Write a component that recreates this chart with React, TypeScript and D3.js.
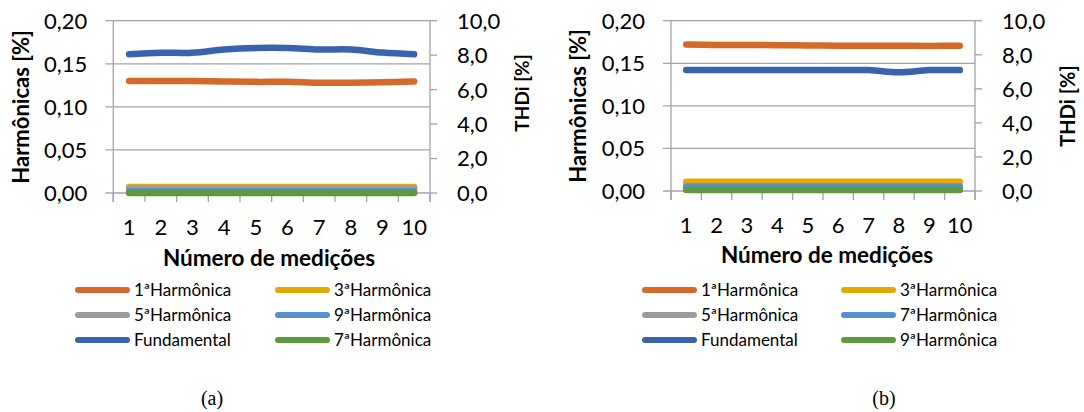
import React from 'react';
import * as d3 from 'd3';

// Measurement index on the x axis
const measurements = ['1', '2', '3', '4', '5', '6', '7', '8', '9', '10'];
// Primary axis (harmonics, %) and secondary axis (THDi, %) ticks
const harmonicTicks = [0, 0.05, 0.1, 0.15, 0.2];
const thdTicks = [0, 2, 4, 6, 8, 10];

// Panel (a)
const a1st = [0.13, 0.13, 0.13, 0.1295, 0.129, 0.129, 0.128, 0.128, 0.1285, 0.1295];
const a3rd = [0.007, 0.007, 0.007, 0.007, 0.007, 0.007, 0.007, 0.007, 0.007, 0.007];
const a5th = [0.005, 0.005, 0.005, 0.005, 0.005, 0.005, 0.005, 0.005, 0.005, 0.005];
const a9th = [0.002, 0.002, 0.002, 0.002, 0.002, 0.002, 0.002, 0.002, 0.002, 0.002];
const a7th = [0, 0, 0, 0, 0, 0, 0, 0, 0, 0];
const aFundamental = [8.05, 8.14, 8.14, 8.33, 8.42, 8.42, 8.33, 8.33, 8.15, 8.05];

// Panel (b)
const b1st = [0.172, 0.1715, 0.1715, 0.1713, 0.171, 0.1706, 0.1706, 0.1706, 0.1704, 0.1706];
const b3rd = [0.011, 0.011, 0.011, 0.011, 0.011, 0.011, 0.011, 0.011, 0.011, 0.011];
const b5th = [0.0055, 0.0055, 0.0055, 0.0055, 0.0055, 0.0055, 0.0055, 0.0055, 0.0055, 0.0055];
const b7th = [0.005, 0.005, 0.005, 0.005, 0.005, 0.005, 0.005, 0.005, 0.005, 0.005];
const b9th = [0.0012, 0.0012, 0.0012, 0.0012, 0.0012, 0.0012, 0.0012, 0.0012, 0.0012, 0.0012];
const bFundamental = [7.1, 7.1, 7.1, 7.1, 7.1, 7.1, 7.1, 6.97, 7.1, 7.1];

const ORANGE = '#D4692A';
const YELLOW = '#E3A902';
const GRAY = '#9B9B9B';
const LIGHTBLUE = '#5590CC';
const BLUE = '#3B63AD';
const GREEN = '#5E9A3D';

const FONT = 'Lato, "Open Sans", sans-serif';
const SERIF = '"Liberation Serif", "Times New Roman", serif';
const AXIS = '#A3A3A3';

const ptBR = d3.formatLocale({ decimal: ',', thousands: '.', grouping: [3], currency: ['R$', ''] });
const fmtHarm = ptBR.format('.2f');
const fmtThd = ptBR.format('.1f');

type Series = { name: string; color: string; values: number[]; secondary?: boolean };

type PanelProps = {
  left: number;
  right: number;
  top: number;
  bottom: number;
  series: Series[];
  legendRows: [string, string][];
  leftTitleX: number;
  rightTitleX: number;
  rightTitleY: number;
  rightTitleSize: number;
  xTitleX: number;
  xTitleY: number;
  legendX: [number, number];
  caption: string;
  captionX: number;
};

function Panel(p: PanelProps) {
  const x = d3.scaleBand<string>().domain(measurements).range([p.left, p.right]);
  const yL = d3.scaleLinear().domain([0, 0.2]).range([p.bottom, p.top]);
  const yR = d3.scaleLinear().domain([0, 10]).range([p.bottom, p.top]);
  const cx = (i: number) => (x(measurements[i]) as number) + x.bandwidth() / 2;
  const lineL = d3.line<number>().x((_, i) => cx(i)).y((v) => yL(v)).curve(d3.curveCatmullRom);
  const lineR = d3.line<number>().x((_, i) => cx(i)).y((v) => yR(v)).curve(d3.curveCatmullRom);
  const bounds = measurements.map((m) => x(m) as number).concat([p.right]);
  const colorOf = (n: string) => p.series.find((s) => s.name === n)!.color;
  const legendY = [290, 315, 340];

  return (
    <g>
      {harmonicTicks.map((t) => (
        <line key={'g' + t} x1={p.left - 8} x2={p.right} y1={yL(t)} y2={yL(t)} stroke={AXIS} strokeWidth={1.3} />
      ))}
      <line x1={p.left} x2={p.left} y1={p.top} y2={p.bottom + 9} stroke={AXIS} strokeWidth={1.3} />
      <line x1={p.right} x2={p.right} y1={p.top} y2={p.bottom + 9} stroke={AXIS} strokeWidth={1.3} />
      {bounds.map((b, i) => (
        <line key={'xt' + i} x1={b} x2={b} y1={p.bottom} y2={p.bottom + 9} stroke={AXIS} strokeWidth={1.3} />
      ))}
      {thdTicks.map((t) => (
        <line key={'rt' + t} x1={p.right} x2={p.right + 7} y1={yR(t)} y2={yR(t)} stroke={AXIS} strokeWidth={1.3} />
      ))}

      {harmonicTicks.map((t) => (
        <text key={'lt' + t} x={p.left - 26} y={yL(t)} dy="0.36em" textAnchor="end" fontFamily={FONT} fontSize={22} fill="#000">
          {fmtHarm(t)}
        </text>
      ))}
      {thdTicks.map((t) => (
        <text key={'rl' + t} x={p.right + 27} y={yR(t)} dy="0.36em" textAnchor="start" fontFamily={FONT} fontSize={22} fill="#000">
          {fmtThd(t)}
        </text>
      ))}
      {measurements.map((m, i) => (
        <text key={'xl' + m} x={cx(i)} y={p.bottom + 42} textAnchor="middle" fontFamily={FONT} fontSize={22} fill="#000">
          {m}
        </text>
      ))}

      <text
        transform={`translate(${p.leftTitleX},${(p.top + p.bottom) / 2}) rotate(-90)`}
        dy="0.36em"
        textAnchor="middle"
        fontFamily={FONT}
        fontWeight="bold"
        fontSize={22}
        fill="#000"
      >
        Harmônicas [%]
      </text>
      <text
        transform={`translate(${p.rightTitleX},${p.rightTitleY}) rotate(-90)`}
        dy="0.36em"
        textAnchor="middle"
        fontFamily={FONT}
        fontWeight="bold"
        fontSize={p.rightTitleSize}
        fill="#000"
      >
        THDi [%]
      </text>
      <text x={p.xTitleX} y={p.xTitleY} textAnchor="middle" fontFamily={FONT} fontWeight="bold" fontSize={22.5} fill="#000">
        Número de medições
      </text>

      {p.series.map((s) => (
        <path
          key={s.name}
          d={(s.secondary ? lineR : lineL)(s.values) as string}
          fill="none"
          stroke={s.color}
          strokeWidth={6.5}
          strokeLinecap="round"
          strokeLinejoin="round"
        />
      ))}

      {p.legendRows.map((row, r) =>
        row.map((name, c) => (
          <g key={name}>
            <line
              x1={p.legendX[c] + 3}
              x2={p.legendX[c] + 52}
              y1={legendY[r]}
              y2={legendY[r]}
              stroke={colorOf(name)}
              strokeWidth={6}
              strokeLinecap="round"
            />
            <text x={p.legendX[c] + 59} y={legendY[r]} dy="0.36em" fontFamily={FONT} fontSize={17} fill="#000">
              {name}
            </text>
          </g>
        ))
      )}

      <text x={p.captionX} y={405} textAnchor="middle" fontFamily={SERIF} fontSize={20} fill="#000">
        {p.caption}
      </text>
    </g>
  );
}

export default function App() {
  const seriesA: Series[] = [
    { name: '1ªHarmônica', color: ORANGE, values: a1st },
    { name: '3ªHarmônica', color: YELLOW, values: a3rd },
    { name: '5ªHarmônica', color: GRAY, values: a5th },
    { name: '9ªHarmônica', color: LIGHTBLUE, values: a9th },
    { name: '7ªHarmônica', color: GREEN, values: a7th },
    { name: 'Fundamental', color: BLUE, values: aFundamental, secondary: true },
  ];
  const seriesB: Series[] = [
    { name: '1ªHarmônica', color: ORANGE, values: b1st },
    { name: '3ªHarmônica', color: YELLOW, values: b3rd },
    { name: '5ªHarmônica', color: GRAY, values: b5th },
    { name: '7ªHarmônica', color: LIGHTBLUE, values: b7th },
    { name: '9ªHarmônica', color: GREEN, values: b9th },
    { name: 'Fundamental', color: BLUE, values: bFundamental, secondary: true },
  ];
  return (
    <svg width={1084} height={412} style={{ position: 'absolute', left: 0, top: 0, background: '#fff' }}>
      <Panel
        left={113.3}
        right={430}
        top={20.7}
        bottom={193}
        series={seriesA}
        legendRows={[
          ['1ªHarmônica', '3ªHarmônica'],
          ['5ªHarmônica', '9ªHarmônica'],
          ['Fundamental', '7ªHarmônica'],
        ]}
        leftTitleX={21}
        rightTitleX={522}
        rightTitleY={93}
        rightTitleSize={19}
        xTitleX={269}
        xTitleY={266}
        legendX={[75, 275]}
        caption="(a)"
        captionX={212}
      />
      <Panel
        left={671}
        right={975}
        top={20.7}
        bottom={191}
        series={seriesB}
        legendRows={[
          ['1ªHarmônica', '3ªHarmônica'],
          ['5ªHarmônica', '7ªHarmônica'],
          ['Fundamental', '9ªHarmônica'],
        ]}
        leftTitleX={578.5}
        rightTitleX={1068}
        rightTitleY={106}
        rightTitleSize={20}
        xTitleX={827}
        xTitleY={263}
        legendX={[642, 841]}
        caption="(b)"
        captionX={884}
      />
    </svg>
  );
}
